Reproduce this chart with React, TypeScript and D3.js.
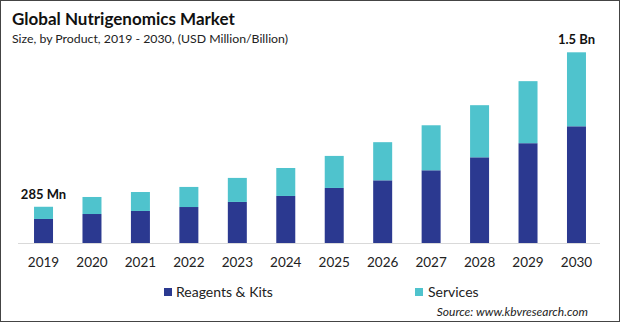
import React from "react";
import * as d3 from "d3";

const years = ["2019","2020","2021","2022","2023","2024","2025","2026","2027","2028","2029","2030"];
const reagentsKits = [189, 228, 252, 283, 323, 370, 433, 493, 572, 674, 785, 918];
const services = [96, 134, 149, 158, 189, 220, 252, 300, 354, 410, 488, 582];
const seriesNames = ["Reagents & Kits", "Services"];
const colors = ["#2b3990", "#4fc3cd"];

const W = 620, H = 322;
const baseY = 243;
const FONT = "Lato, 'Open Sans', sans-serif";

export default function App() {
  const x = d3.scaleBand<string>().domain(years).range([19.3, 600.7]).paddingInner(0.608).paddingOuter(0.304);
  const y = d3.scaleLinear().domain([0, 1500]).range([baseY, baseY - 190.7]);
  const rows = years.map((yr, i) => ({ year: yr, kits: reagentsKits[i], services: services[i] }));
  const stack = d3.stack<any>().keys(["kits", "services"])(rows);
  const first = rows[0], last = rows[rows.length - 1];
  return (
    <svg width={W} height={H} style={{ position: "absolute", left: 0, top: 0, display: "block" }} fontFamily={FONT}>
      <rect x={0} y={0} width={W} height={H} fill="#fff" />
      <rect x={0.5} y={0.5} width={W - 1} height={H - 1} fill="none" stroke="#444" strokeWidth={1} />
      <text x={12} y={25} fontSize={17} fontWeight={700} fill="#111">Global Nutrigenomics Market</text>
      <text x={12} y={43} fontSize={12.3} fill="#222">Size, by Product, 2019 - 2030, (USD Million/Billion)</text>
      <line x1={18} x2={600} y1={baseY + 0.5} y2={baseY + 0.5} stroke="#d9d9d9" strokeWidth={1} />
      {stack.map((s, si) => (
        <g key={si} fill={colors[si]}>
          {s.map((d, i) => (
            <rect key={i} x={x(years[i])} width={x.bandwidth()} y={y(d[1])} height={y(d[0]) - y(d[1])} />
          ))}
        </g>
      ))}
      {years.map(yr => (
        <text key={yr} x={(x(yr) as number) + x.bandwidth() / 2} y={267} fontSize={13.5} textAnchor="middle" fill="#222">{yr}</text>
      ))}
      <text x={(x(first.year) as number) + x.bandwidth() / 2} y={y(first.kits + first.services) - 8} fontSize={13} fontWeight={700} textAnchor="middle" fill="#111">285 Mn</text>
      <text x={(x(last.year) as number) + x.bandwidth() / 2} y={y(last.kits + last.services) - 8} fontSize={13} fontWeight={700} textAnchor="middle" fill="#111">1.5 Bn</text>
      <rect x={164} y={288} width={8} height={8} fill={colors[0]} />
      <text x={176} y={296.5} fontSize={14} fill="#222">{seriesNames[0]}</text>
      <rect x={415} y={288} width={8} height={8} fill={colors[1]} />
      <text x={428} y={296.5} fontSize={14} fill="#222">{seriesNames[1]}</text>
      <text x={588} y={316} fontSize={12} fontStyle="italic" textAnchor="end" fill="#222">Source: www.kbvresearch.com</text>
    </svg>
  );
}
